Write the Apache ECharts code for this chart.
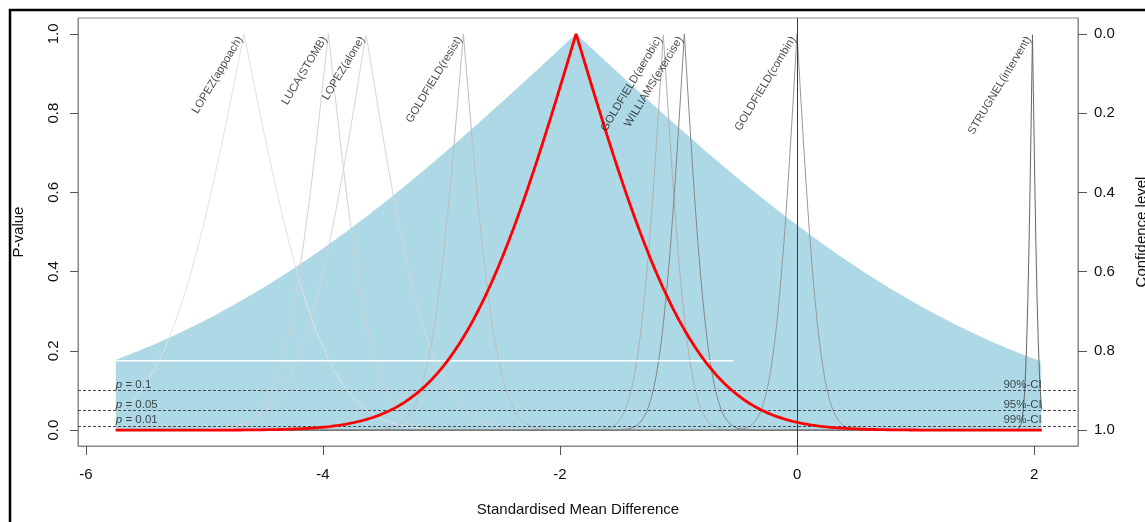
<!DOCTYPE html>
<html>
<head>
<meta charset="utf-8">
<title>Drapery plot</title>
<script src="https://cdn.jsdelivr.net/npm/echarts@6/dist/echarts.min.js"></script>
<style>
html, body { margin: 0; padding: 0; background: #fff; }
#chart { width: 1145px; height: 522px; }
</style>
</head>
<body>
<div id="chart"></div>
<script>
// study results (estimate + standard error)
var studies = ['LOPEZ(appoach)', 'LUCA(STOMB)', 'LOPEZ(alone)', 'GOLDFIELD(resist)',
  'GOLDFIELD(aerobic)', 'WILLIAMS(exercise)', 'GOLDFIELD(combin)', 'STRUGNEL(intervent)'];
var estimates = [-4.665, -3.954, -3.636, -2.815, -1.128, -0.951, 0.0, 1.986];
var stdErrors = [0.53, 0.29, 0.43, 0.22, 0.165, 0.16, 0.155, 0.04];
var studyGreys = ['#e2e2e2', '#d2d2d2', '#d6d6d6', '#bdbdbd', '#b0b0b0', '#868686', '#989898', '#666666'];

// pooled estimate and prediction region
var pooledEst = -1.864;
var pooledSe = 0.80;
var predSd = 2.88;
var xRange = [-5.747, 2.064];

var whiteBar = [-5.747, -0.537];
var whiteBarP = 0.175;

var pLevels = [0.1, 0.05, 0.01];
var pLabels = ['0.1', '0.05', '0.01'];
var ciLabels = ['90%-CI', '95%-CI', '99%-CI'];

var xTicks = [-6, -4, -2, 0, 2];
var yTicks = [0, 0.2, 0.4, 0.6, 0.8, 1.0];

var font = 'Liberation Sans, Arial, Helvetica, sans-serif';

// two-sided p-value function of a normal estimate
function erfc(x) {
  var t = 1 / (1 + 0.3275911 * x);
  var y = t * (0.254829592 + t * (-0.284496736 + t * (1.421413741 + t * (-1.453152027 + t * 1.061405429))));
  return y * Math.exp(-x * x);
}
function pval(x, est, se) {
  return erfc(Math.abs(x - est) / (se * Math.SQRT2));
}
function curve(est, se) {
  var n = 800, xs = [], out = [];
  for (var i = 0; i <= n; i++) xs.push(xRange[0] + (xRange[1] - xRange[0]) * i / n);
  if (est > xRange[0] && est < xRange[1]) xs.push(est);
  xs.sort(function(a, b) { return a - b; });
  xs.forEach(function(x) { out.push([x, pval(x, est, se)]); });
  return out;
}

var series = [];

series.push({
  type: 'line', data: curve(pooledEst, predSd), symbol: 'none', silent: true, z: 1,
  lineStyle: { width: 0 },
  areaStyle: { color: '#add8e6', opacity: 1 }
});

studies.forEach(function(name, i) {
  series.push({
    type: 'line', data: curve(estimates[i], stdErrors[i]), symbol: 'none', silent: true, z: 2,
    lineStyle: { color: studyGreys[i], width: 1 }
  });
});

series.push({
  type: 'line', data: [[whiteBar[0], whiteBarP], [whiteBar[1], whiteBarP]], symbol: 'none', silent: true, z: 3,
  lineStyle: { color: '#ffffff', width: 1.5 },
  markLine: {
    silent: true, symbol: ['none', 'none'], label: { show: false },
    data: pLevels.map(function(p) {
      return { yAxis: p, lineStyle: { color: '#4a4a4a', width: 1, type: [3, 2] } };
    }).concat([{ xAxis: 0, lineStyle: { color: '#3a3a3a', width: 1, type: 'solid' } }])
  }
});

series.push({
  type: 'line', data: curve(pooledEst, pooledSe), symbol: 'none', silent: true, z: 5,
  lineStyle: { color: '#ff0000', width: 2.8 }
});

// study names at the top of each curve
series.push({
  type: 'scatter', symbolSize: 0, silent: true, z: 6,
  data: studies.map(function(name, i) { return { name: name, value: [estimates[i], 1] }; }),
  label: {
    show: true, position: [0, 0], formatter: '{b}', rotate: 59,
    align: 'right', verticalAlign: 'middle', offset: [-5, -1.5],
    fontSize: 11.3, color: '#1a1a1a', fontFamily: font
  }
});

// p-value / CI labels
series.push({
  type: 'scatter', symbolSize: 0, silent: true, z: 6,
  data: pLevels.map(function(p, i) { return { name: pLabels[i], value: [xRange[0], p] }; }),
  label: {
    show: true, position: [0, 0], align: 'left', verticalAlign: 'bottom',
    formatter: function(d) { return '{i|p}{n| = ' + d.name + '}'; },
    rich: {
      i: { fontStyle: 'italic', fontSize: 11.5, color: '#1a1a1a', fontFamily: font },
      n: { fontSize: 11.5, color: '#1a1a1a', fontFamily: font }
    }
  }
});
series.push({
  type: 'scatter', symbolSize: 0, silent: true, z: 6,
  data: pLevels.map(function(p, i) { return { name: ciLabels[i], value: [xRange[1], p] }; }),
  label: {
    show: true, position: [0, 0], align: 'right', verticalAlign: 'bottom',
    formatter: '{b}', fontSize: 11.5, color: '#1a1a1a', fontFamily: font
  }
});

var chart = echarts.init(document.getElementById('chart'));
chart.setOption({
  animation: false,
  backgroundColor: '#fff',
  textStyle: { fontFamily: font },
  graphic: [{
    type: 'rect', silent: true,
    shape: { x: 10, y: 10, width: 1400, height: 800 },
    style: { fill: 'none', stroke: '#000', lineWidth: 2.5 }
  }],
  grid: {
    left: 78, right: 67, top: 18, bottom: 76, outerBoundsMode: 'none', containLabel: false,
    show: true, borderColor: '#888', borderWidth: 1
  },
  xAxis: {
    type: 'value', min: -6.066, max: 2.37,
    name: 'Standardised Mean Difference', nameLocation: 'middle', nameGap: 56,
    nameTextStyle: { fontSize: 15, color: '#111', fontFamily: font },
    axisLine: { show: true, onZero: false, lineStyle: { color: '#888' } },
    axisTick: { show: true, inside: false, customValues: xTicks, length: 9, lineStyle: { color: '#555' } },
    axisLabel: { customValues: xTicks, margin: 21, fontSize: 15, color: '#111', fontFamily: font },
    splitLine: { show: false }
  },
  yAxis: [{
    type: 'value', min: -0.04, max: 1.04, position: 'left',
    name: 'P-value', nameLocation: 'middle', nameGap: 52, nameRotate: 90,
    nameTextStyle: { fontSize: 15, color: '#111', fontFamily: font },
    axisLine: { show: true, onZero: false, lineStyle: { color: '#888' } },
    axisTick: { show: true, inside: false, customValues: yTicks, length: 8, lineStyle: { color: '#555' } },
    axisLabel: {
      customValues: yTicks, rotate: 90, margin: 17, fontSize: 15, color: '#111', fontFamily: font,
      formatter: function(v) { return v.toFixed(1); }
    },
    splitLine: { show: false }
  }, {
    type: 'value', min: -0.04, max: 1.04, position: 'right', inverse: true,
    name: 'Confidence level', nameLocation: 'middle', nameGap: 56, nameRotate: 90,
    nameTextStyle: { fontSize: 15, color: '#111', fontFamily: font },
    axisLine: { show: true, onZero: false, lineStyle: { color: '#888' } },
    axisTick: { show: true, inside: false, customValues: yTicks, length: 9, lineStyle: { color: '#555' } },
    axisLabel: {
      customValues: yTicks, margin: 16, fontSize: 15, color: '#111', fontFamily: font,
      formatter: function(v) { return v.toFixed(1); }
    },
    splitLine: { show: false }
  }],
  series: series
});
</script>
</body>
</html>
